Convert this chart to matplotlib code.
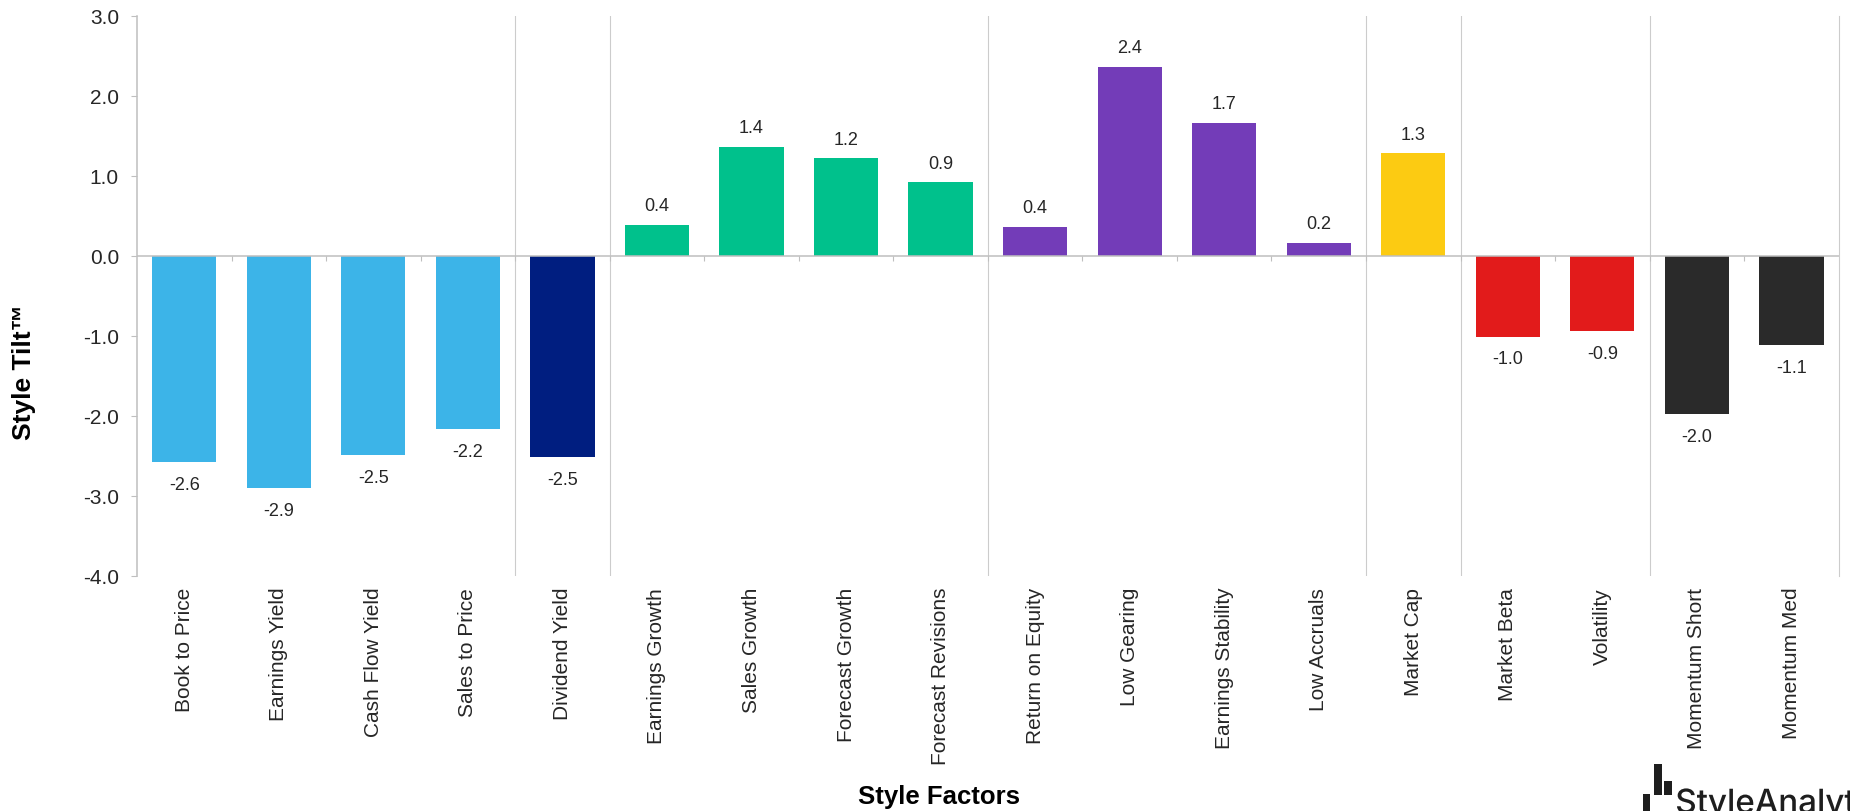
import matplotlib as mpl
mpl.use('Agg')
import matplotlib.pyplot as plt
import numpy as np
from matplotlib.textpath import TextPath
from matplotlib.patches import PathPatch, Rectangle
from matplotlib.font_manager import FontProperties
from matplotlib.transforms import Affine2D, IdentityTransform

# Style Tilt per factor
factors = ["Book to Price", "Earnings Yield", "Cash Flow Yield", "Sales to Price",
           "Dividend Yield",
           "Earnings Growth", "Sales Growth", "Forecast Growth", "Forecast Revisions",
           "Return on Equity", "Low Gearing", "Earnings Stability", "Low Accruals",
           "Market Cap",
           "Market Beta", "Volatility",
           "Momentum Short", "Momentum Med"]
tilts = [-2.58, -2.90, -2.49, -2.17,
         -2.52,
         0.39, 1.36, 1.22, 0.92,
         0.36, 2.36, 1.66, 0.16,
         1.28,
         -1.01, -0.94,
         -1.98, -1.12]
groups = ["value"] * 4 + ["yield"] + ["growth"] * 4 + ["quality"] * 4 + ["size"] + ["risk"] * 2 + ["momentum"] * 2
yticks = [-4.0, -3.0, -2.0, -1.0, 0.0, 1.0, 2.0, 3.0]

colours = {"value": "#3cb4e8", "yield": "#001e80", "growth": "#00c18c",
           "quality": "#733cb8", "size": "#fccb12", "risk": "#e21b1b",
           "momentum": "#2a2a2a"}

plt.rcParams['font.family'] = ['Liberation Sans', 'DejaVu Sans']
grey = "#bfbfbf"
txt = "#262626"

fig = plt.figure(figsize=(18.5, 8.12), dpi=100)
ax = fig.add_axes([137/1850, 1 - 576.7/812, (1838.7 - 137)/1850, (576.7 - 16.7)/812])

x = np.arange(len(factors))
ax.bar(x, tilts, width=0.68, color=[colours[g] for g in groups], zorder=2)

# value labels above / below each bar
for xi, v in zip(x, tilts):
    if v >= 0:
        ax.annotate(f"{v:.1f}", (xi, v), xytext=(0, 10.5), textcoords="offset points",
                    ha="center", va="baseline", fontsize=13, color=txt)
    else:
        ax.annotate(f"{v:.1f}", (xi, v), xytext=(0, -10), textcoords="offset points",
                    ha="center", va="top", fontsize=13, color=txt)

# group separators
for i in range(1, len(groups)):
    if groups[i] != groups[i - 1]:
        ax.axvline(i - 0.5, color="#cccccc", lw=0.8, zorder=1)

# zero line with small ticks between categories
ax.axhline(0, color=grey, lw=1.1, zorder=3)
ax.vlines(np.arange(0.5, len(factors) - 1, 1.0), -0.06, 0, color=grey, lw=0.8, zorder=3)

ax.set_xlim(-0.5, len(factors) - 0.5)
ax.set_ylim(-4, 3)
ax.set_yticks(yticks)
ax.set_yticklabels([f"{t:.1f}" for t in yticks])
ax.tick_params(axis="y", length=4, color=grey, labelsize=15, labelcolor=txt, pad=9)
ax.set_xticks(x)
ax.set_xticklabels(factors, rotation=90, fontsize=15, color=txt)
ax.tick_params(axis="x", length=0, pad=8)

for s in ["top", "bottom"]:
    ax.spines[s].set_visible(False)
ax.spines["left"].set_color(grey)
ax.spines["left"].set_linewidth(1.1)
ax.spines["right"].set_color("#cccccc")
ax.spines["right"].set_linewidth(0.8)

fig.text(24/1850, 1 - 372/812, "Style Tilt\u2122", rotation=90, ha="center", va="center",
         fontsize=19, fontweight="bold", color="black")
fig.text(939/1850, 1 - 804/812, "Style Factors", ha="center", va="baseline",
         fontsize=18.5, fontweight="bold", color="black")

# logo in the bottom right corner
ink = "#1e1e1e"
for x0, y0, w, h in [(1643, 0, 7, 17), (1654, 16, 7.5, 31), (1664, 16, 8, 14)]:
    fig.add_artist(Rectangle((x0, y0), w, h, transform=IdentityTransform(), fc=ink, ec="none"))
fp = FontProperties(family="Inter", weight="medium")
ref = TextPath((0, 0), "StyleAnalyt", size=100, prop=fp).get_extents()
cap = TextPath((0, 0), "S", size=100, prop=fp).get_extents()
sx = 178 / ref.width
sy = 25 / cap.height
logo = TextPath((0, 0), "StyleAnalytics", size=100, prop=fp)
tr = Affine2D().translate(-ref.x0, 0).scale(sx, sy).translate(1677, -2)
fig.add_artist(PathPatch(logo, transform=tr, fc=ink, ec="none"))

fig.savefig("out.png", dpi=100)
